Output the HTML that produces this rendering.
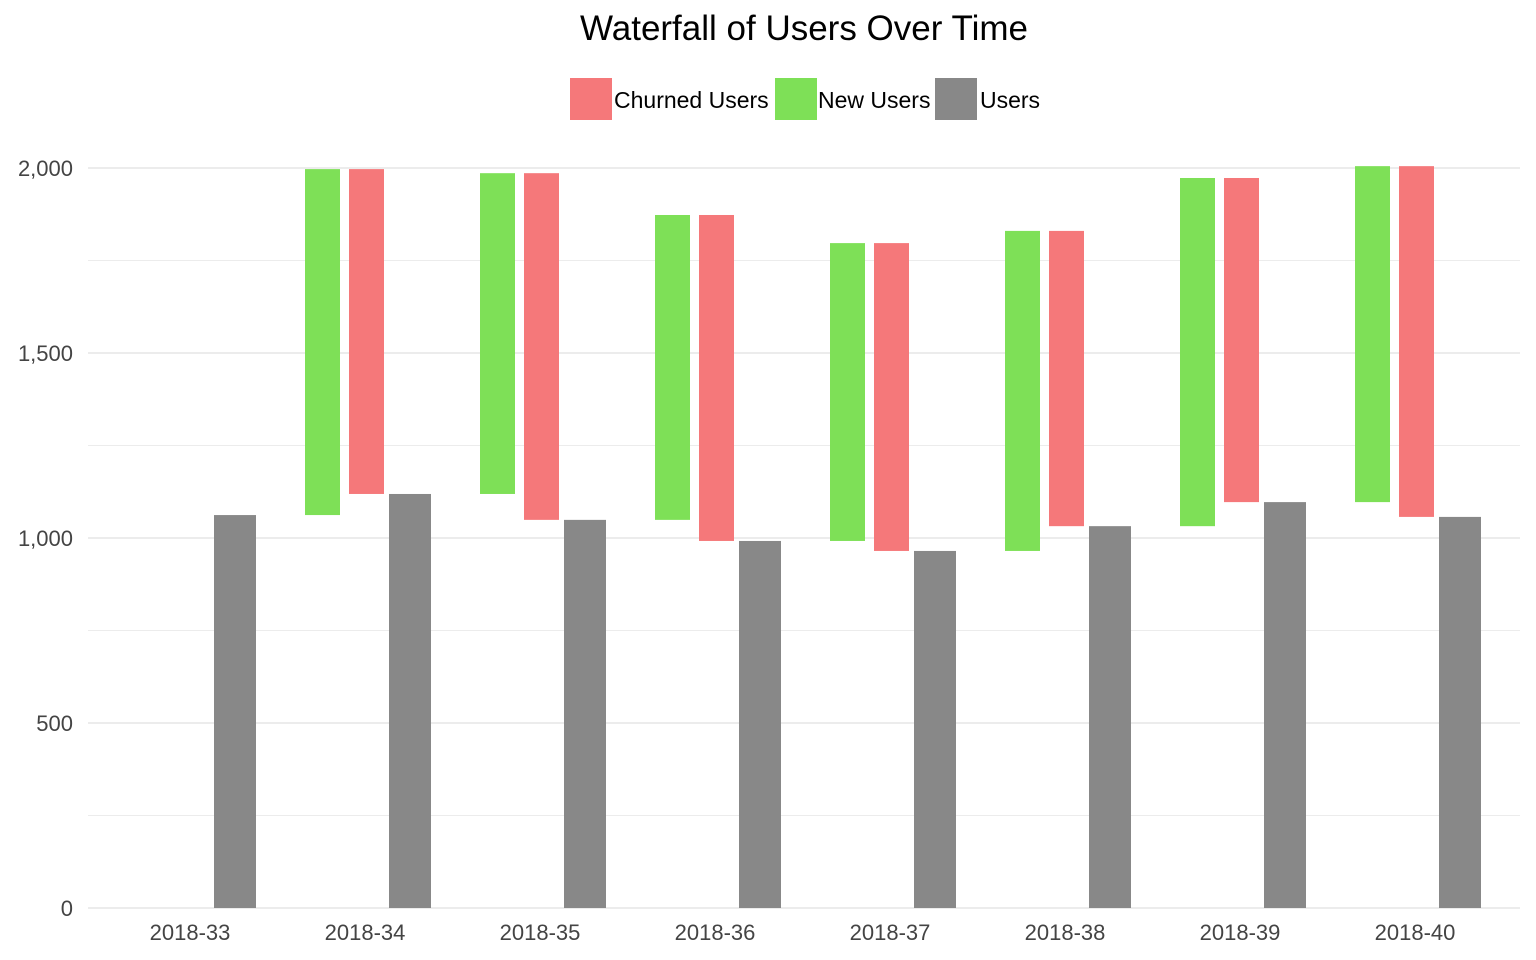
<!DOCTYPE html>
<html><head><meta charset="utf-8"><style>
html,body{margin:0;padding:0;background:#fff;}
svg{display:block;font-family:"Liberation Sans",Arial,sans-serif;}
</style></head><body>
<svg id="chart" width="1536" height="960">
<text x="804" y="40" text-anchor="middle" font-size="35" fill="#000">Waterfall of Users Over Time</text>
<g>
<rect x="570" y="78" width="42" height="42" fill="#f5787a"/>
<text x="614" y="108" font-size="23" fill="#000">Churned Users</text>
<rect x="775" y="78" width="42" height="42" fill="#7ee057"/>
<text x="818" y="108" font-size="23" fill="#000">New Users</text>
<rect x="935" y="78" width="42" height="42" fill="#888888"/>
<text x="980" y="108" font-size="23" fill="#000">Users</text>
</g>
<g id="grid"></g><g id="bars"></g><g id="axes"></g>
</svg>
<script>
const categories=["2018-33","2018-34","2018-35","2018-36","2018-37","2018-38","2018-39","2018-40"];
const users=[1062,1119,1049,992,965,1032,1097,1057];
const newUsers=[0,935,867,824,805,865,941,908];
const yTicks=[0,500,1000,1500,2000];
const yTickLabels=["0","500","1,000","1,500","2,000"];
const NS="http://www.w3.org/2000/svg";
const y=v=>908-v*0.37;
const x=i=>190+i*175;
function mk(tag,attrs,parent){const e=document.createElementNS(NS,tag);for(const k in attrs)e.setAttribute(k,attrs[k]);document.getElementById(parent).appendChild(e);return e;}
for(let t=0;t<=2000;t+=250){
 const major=t%500===0;
 const l=mk('line',{x1:88,x2:1520,y1:y(t),y2:y(t),stroke:major?'#d9d9d9':'#ececec','stroke-width':1},'grid');
 
 
}
yTicks.forEach((t,i)=>{
 const e=mk('text',{x:73,y:y(t)+8,'text-anchor':'end','font-size':22,fill:'#444'},'axes');
 e.textContent=yTickLabels[i];
 
 
});
categories.forEach((c,i)=>{
 const e=mk('text',{x:x(i),y:940,'text-anchor':'middle','font-size':22,fill:'#444'},'axes');
 e.textContent=c;
 
 
 const g=mk('rect',{x:x(i)+24,width:42,y:y(users[i]),height:y(0)-y(users[i]),fill:'#888888'},'bars');
 
 
 if(i>0){
  const prev=users[i-1],top=prev+newUsers[i];
  const n=mk('rect',{x:x(i)-60,width:35,y:y(top),height:y(prev)-y(top),fill:'#7ee057'},'bars');
  
  
  const r=mk('rect',{x:x(i)-16,width:35,y:y(top),height:y(users[i])-y(top),fill:'#f5787a'},'bars');
  
  
 }
});
</script>
</body></html>
